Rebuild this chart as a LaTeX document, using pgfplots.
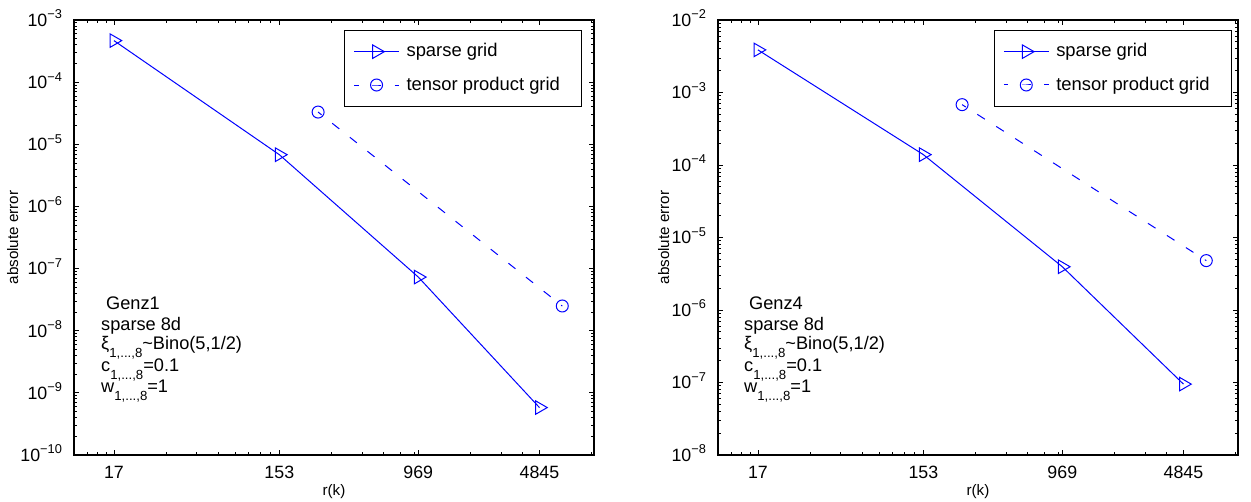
\documentclass[border=0pt]{standalone}
\usepackage{fontspec}
\setmainfont{Liberation Sans}
\usepackage{pgfplots}
\pgfplotsset{compat=1.18}
\pgfplotsset{legend image code/.code={\draw[mark repeat=2,mark phase=2,#1] plot coordinates {(0pt,0pt) (11.25pt,0pt) (22.5pt,0pt)};}}

\newcommand\sub[1]{\raisebox{-0.8ex}[0pt][0pt]{\fontsize{6.6}{7}\selectfont #1}}
\newcommand\ten[1]{10\raisebox{0.8ex}{\fontsize{6.4}{7}\selectfont −#1}}

\pgfplotstableread{
x y
17 4.66e-4
153 6.8e-6
969 7.3e-8
4845 5.8e-10
}\sparseA
\pgfplotstableread{
x y
256 3.3e-5
6561 2.5e-8
}\tensorA
\pgfplotstableread{
x y
17 3.87e-3
153 1.39e-4
969 3.95e-6
4845 9.5e-8
}\sparseB
\pgfplotstableread{
x y
256 6.8e-4
6561 4.8e-6
}\tensorB

\begin{document}
\begin{tikzpicture}
\useasboundingbox (0,0) rectangle (625.5pt,251pt);
\begin{axis}[at={(37pt,23.5pt)}, anchor=south west,
    scale only axis, width=260pt, height=217.5pt,
    xmode=log, ymode=log, xmin=10, xmax=10000,
    xtick={17,153,969,4845}, xticklabels={17,153,969,4845},
    minor xtick={11.9,13.6,15.3,34,51,68,85,102,119,136,306,459,612,765,918,1938,2907,3876,9690},
    tick align=inside, major tick length=2.5pt, minor tick length=1.5pt,
    axis line style={line width=0.6pt},
    tick style={black, line width=0.4pt},
    tick label style={font=\fontsize{8.9}{10}\selectfont},
    xticklabel style={yshift=-2pt},
    yticklabel style={anchor=base east, yshift=-3.2pt, xshift=-2.5pt},
    label style={font=\fontsize{7.6}{9}\selectfont},
    xlabel={r(k)}, ylabel={absolute error},
    xlabel style={at={(axis description cs:0.5,-0.085)}, anchor=center},
    ylabel style={at={(axis description cs:-0.118,0.5)}, rotate=0, anchor=center},
    legend cell align=left,
    legend style={at={(axis description cs:0.977,0.977)}, anchor=north east, draw=black, line width=0.5pt, fill=white,
      font=\fontsize{9.2}{11}\selectfont, inner xsep=4.5pt, inner ysep=6.5pt,
      row sep=8.5pt, column sep=3.5pt, nodes={inner sep=0pt}},
  ymin=1e-10, ymax=1e-3,
  ytick={1e-10,1e-9,1e-8,1e-7,1e-6,1e-5,1e-4,1e-3},
  yticklabels={\ten{10},\ten{9},\ten{8},\ten{7},\ten{6},\ten{5},\ten{4},\ten{3}},
  minor ytick={2e-10,3e-10,4e-10,5e-10,6e-10,7e-10,8e-10,9e-10,
    2e-9,3e-9,4e-9,5e-9,6e-9,7e-9,8e-9,9e-9,
    2e-8,3e-8,4e-8,5e-8,6e-8,7e-8,8e-8,9e-8,
    2e-7,3e-7,4e-7,5e-7,6e-7,7e-7,8e-7,9e-7,
    2e-6,3e-6,4e-6,5e-6,6e-6,7e-6,8e-6,9e-6,
    2e-5,3e-5,4e-5,5e-5,6e-5,7e-5,8e-5,9e-5,
    2e-4,3e-4,4e-4,5e-4,6e-4,7e-4,8e-4,9e-4},
]
\addplot[blue, line width=0.5pt, mark=triangle, mark size=3.9pt, mark options={rotate=-90, solid}]
  table[x=x,y=y] {\sparseA};
\addlegendentry{\makebox[83pt][l]{sparse grid}}
\addplot[blue, line width=0.5pt, dash pattern=on 4.5pt off 6.75pt, dash phase=2.25pt, mark=o, mark size=3pt, mark options={solid}]
  table[x=x,y=y] {\tensorA};
\addlegendentry{\makebox[83pt][l]{tensor product grid}}
\node[anchor=north west, align=left, inner sep=0pt,
  font=\fontsize{9.1}{10}\selectfont]
  at (axis description cs:0.0515,0.3648)
  {\hspace*{2.5pt}Genz1\\[0.7pt]sparse 8d\\[-0.7pt]ξ\sub{1,...,8}\textasciitilde Bino(5,1/2)\\[1.2pt]c\sub{1,...,8}=0.1\\[0.5pt]w\sub{1,...,8}=1};
\end{axis}

\begin{axis}[at={(359pt,23.5pt)}, anchor=south west,
    scale only axis, width=260pt, height=217.5pt,
    xmode=log, ymode=log, xmin=10, xmax=10000,
    xtick={17,153,969,4845}, xticklabels={17,153,969,4845},
    minor xtick={11.9,13.6,15.3,34,51,68,85,102,119,136,306,459,612,765,918,1938,2907,3876,9690},
    tick align=inside, major tick length=2.5pt, minor tick length=1.5pt,
    axis line style={line width=0.6pt},
    tick style={black, line width=0.4pt},
    tick label style={font=\fontsize{8.9}{10}\selectfont},
    xticklabel style={yshift=-2pt},
    yticklabel style={anchor=base east, yshift=-3.2pt, xshift=-2.5pt},
    label style={font=\fontsize{7.6}{9}\selectfont},
    xlabel={r(k)}, ylabel={absolute error},
    xlabel style={at={(axis description cs:0.5,-0.085)}, anchor=center},
    ylabel style={at={(axis description cs:-0.1046,0.5)}, rotate=0, anchor=center},
    legend cell align=left,
    legend style={at={(axis description cs:0.988,0.977)}, anchor=north east, draw=black, line width=0.5pt, fill=white,
      font=\fontsize{9.2}{11}\selectfont, inner xsep=4.5pt, inner ysep=6.5pt,
      row sep=8.5pt, column sep=3.5pt, nodes={inner sep=0pt}},
  ymin=1e-8, ymax=1e-2,
  ytick={1e-8,1e-7,1e-6,1e-5,1e-4,1e-3,1e-2},
  yticklabels={\ten{8},\ten{7},\ten{6},\ten{5},\ten{4},\ten{3},\ten{2}},
  minor ytick={2e-8,3e-8,4e-8,5e-8,6e-8,7e-8,8e-8,9e-8,
    2e-7,3e-7,4e-7,5e-7,6e-7,7e-7,8e-7,9e-7,
    2e-6,3e-6,4e-6,5e-6,6e-6,7e-6,8e-6,9e-6,
    2e-5,3e-5,4e-5,5e-5,6e-5,7e-5,8e-5,9e-5,
    2e-4,3e-4,4e-4,5e-4,6e-4,7e-4,8e-4,9e-4,
    2e-3,3e-3,4e-3,5e-3,6e-3,7e-3,8e-3,9e-3},
]
\addplot[blue, line width=0.5pt, mark=triangle, mark size=3.9pt, mark options={rotate=-90, solid}]
  table[x=x,y=y] {\sparseB};
\addlegendentry{\makebox[83pt][l]{sparse grid}}
\addplot[blue, line width=0.5pt, dash pattern=on 4.5pt off 6.75pt, dash phase=2.25pt, mark=o, mark size=3pt, mark options={solid}]
  table[x=x,y=y] {\tensorB};
\addlegendentry{\makebox[83pt][l]{tensor product grid}}
\node[anchor=north west, align=left, inner sep=0pt,
  font=\fontsize{9.1}{10}\selectfont]
  at (axis description cs:0.0496,0.3648)
  {\hspace*{2.5pt}Genz4\\[0.7pt]sparse 8d\\[-0.7pt]ξ\sub{1,...,8}\textasciitilde Bino(5,1/2)\\[1.2pt]c\sub{1,...,8}=0.1\\[0.5pt]w\sub{1,...,8}=1};
\end{axis}
\end{tikzpicture}
\end{document}
